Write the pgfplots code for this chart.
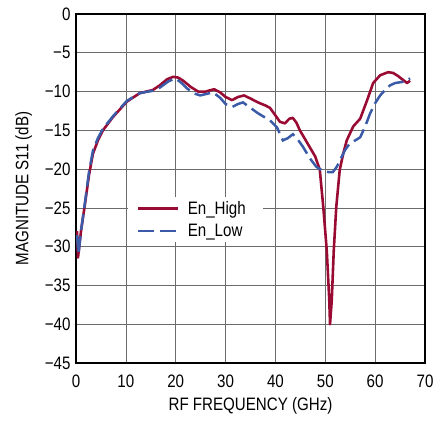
\documentclass[border=0pt]{standalone}
\usepackage{pgfplots}
\pgfplotsset{compat=1.18}
\usetikzlibrary{calc}
\usepackage{fontspec}
\setmainfont{Liberation Sans}[FakeStretch=0.84]
\definecolor{enhigh}{HTML}{9A0B33}
\definecolor{enlow}{HTML}{3B5BA9}
\begin{document}
\begin{tikzpicture}
\begin{axis}[
  name=ax,
  scale only axis,
  width=349bp, height=349bp,
  xmin=0, xmax=70, ymin=-45, ymax=0,
  xtick={0,10,...,70},
  ytick={-45,-40,...,0},
  yticklabels={−45,−40,−35,−30,−25,−20,−15,−10,−5,0},
  xticklabels={0,10,20,30,40,50,60,70},
  grid=major,
  major grid style={draw=black!58, line width=0.7pt},
  axis line style={line width=1.1pt},
  tick style={draw=none},
  ticklabel style={font=\fontsize{18bp}{20bp}\selectfont},
  label style={font=\fontsize{18bp}{20bp}\selectfont},
  xlabel={RF FREQUENCY (GHz)},
  ylabel={MAGNITUDE S11 (dB)},
  xticklabel style={anchor=center, yshift=-18bp},
  yticklabel style={xshift=-2bp},
  xlabel style={at={(axis description cs:0.5,0)}, anchor=center, yshift=-43bp},
  ylabel style={yshift=6bp},
  legend style={at={(0.149,0.475)}, anchor=north west, draw=none, fill=white,
    font=\fontsize{18bp}{20bp}\selectfont, row sep=4bp, inner xsep=9bp, inner ysep=2bp,
    nodes={inner xsep=8bp}},
  legend cell align=left,
  legend image code/.code={\draw[#1] plot coordinates {(0bp,0bp) (40bp,0bp)};},
]
\addplot[color=enhigh, line width=2.6pt, line join=round] coordinates {
(0.2,-28) (0.4,-31.4) (1.0,-28) (1.8,-24.5) (2.6,-20.8) (3.4,-18.0) (4.4,-16.3) (5.4,-15.0) (7.4,-13.3) (10.2,-11.3) (12.8,-10.2) (15.4,-9.8) (16.8,-9.2) (18.3,-8.4) (19.5,-8.1) (20.5,-8.2) (21.5,-8.6) (23.0,-9.4) (24.5,-10.0) (26.0,-10.0) (27.7,-9.7) (28.9,-10.1) (30.0,-10.7) (31.3,-11.1) (32.5,-10.7) (33.7,-10.5) (35.0,-10.9) (36.5,-11.4) (38.0,-11.8) (38.9,-12.1) (39.8,-12.9) (40.9,-13.9) (41.9,-14.1) (42.8,-13.5) (43.5,-13.4) (44.2,-14.0) (44.9,-15.0) (46.0,-16.2) (47.0,-17.3) (48.0,-18.4) (48.9,-20.1) (49.6,-24.9) (50.3,-30.5) (50.8,-36.9) (50.95,-40.0) (51.3,-36.9) (51.7,-30.5) (52.2,-24.9) (52.9,-20.1) (53.6,-18.0) (54.3,-16.3) (55.6,-14.5) (57.0,-13.5) (58.4,-11.1) (59.6,-8.9) (61.0,-7.9) (62.6,-7.5) (63.6,-7.6) (64.6,-8.0) (65.6,-8.5) (66.4,-8.9) (67.0,-8.6)
};
\addlegendentry{En\_High}
\addplot[color=enlow, line width=2.5pt, dash pattern=on 16bp off 6bp] coordinates {
(0.2,-28.5) (0.5,-31) (1.0,-28) (1.8,-24.3) (2.6,-20.4) (3.4,-17.6) (4.4,-16.0) (5.4,-14.8) (7.4,-13.2) (10.2,-11.2) (12.8,-10.2) (15.4,-9.9) (16.8,-9.5) (18.5,-8.7) (19.9,-8.3) (21.0,-8.8) (22.3,-9.6) (23.5,-10.2) (24.9,-10.5) (26.2,-10.3) (27.5,-10.1) (28.9,-10.8) (30.0,-11.6) (31.3,-12.0) (32.5,-11.6) (33.5,-11.4) (35.0,-12.1) (36.5,-12.8) (37.8,-13.3) (38.9,-13.7) (40.3,-14.6) (41.5,-16.3) (42.5,-16.0) (43.5,-15.5) (44.5,-16.2) (45.5,-17.1) (46.9,-18.6) (48.2,-19.7) (48.9,-20.0) (50.0,-20.3) (50.8,-20.4) (51.5,-20.4) (52.3,-19.7) (53.0,-18.8) (54.0,-17.5) (54.8,-16.8) (56.0,-16.3) (57.0,-15.9) (58.0,-14.5) (59.0,-12.8) (60.0,-11.5) (61.0,-10.5) (62.0,-9.8) (63.0,-9.2) (64.0,-8.9) (65.0,-8.8) (66.0,-8.7) (67.0,-8.3)
};
\addlegendentry{En\_Low}
\end{axis}
\pgfresetboundingbox
\path[use as bounding box] ($(ax.south west)+(-76bp,-58bp)$) rectangle ($(ax.north east)+(10bp,14bp)$);
\end{tikzpicture}
\end{document}
